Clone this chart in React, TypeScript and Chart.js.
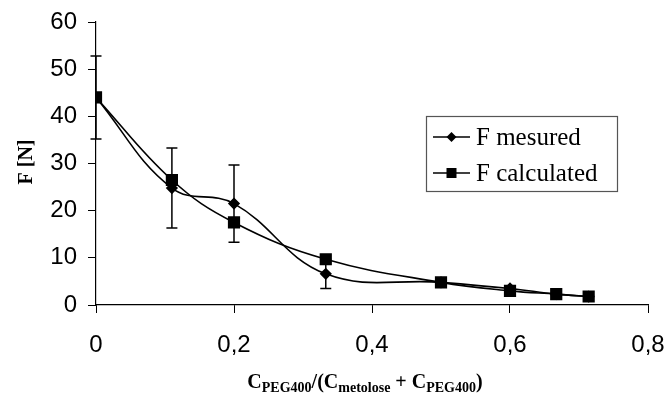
import React, { useEffect, useRef } from "react";
import { Chart, registerables } from "chart.js";

Chart.register(...registerables);

const xValues = [0, 0.11, 0.2, 0.333, 0.5, 0.6, 0.667, 0.714];
const measured = [44, 24.8, 21.5, 6.6, 4.8, 3.5, 2.3, 1.8];
const calculated = [44, 26.5, 17.5, 9.7, 4.8, 3.0, 2.3, 1.8];
const measuredError = [8.8, 8.5, 8.2, 3.1, 0.4, 0.5, 0.3, 0.2];
const seriesLabels = ["F mesured", "F calculated"];
const yTitle = "F [N]";

const SERIF = "'Liberation Serif', 'Times New Roman', serif";
const SANS = "'Liberation Sans', Arial, sans-serif";

const errorBarPlugin = {
  id: "errorBars",
  beforeDatasetsDraw(chart: any) {
    const ctx = chart.ctx;
    const xs = chart.scales.x;
    const ys = chart.scales.y;
    ctx.save();
    ctx.strokeStyle = "#000";
    ctx.lineWidth = 1.5;
    xValues.forEach((xv, i) => {
      const px = xs.getPixelForValue(xv);
      const top = ys.getPixelForValue(measured[i] + measuredError[i]);
      const bot = ys.getPixelForValue(measured[i] - measuredError[i]);
      ctx.beginPath();
      ctx.moveTo(px, top);
      ctx.lineTo(px, bot);
      ctx.moveTo(px - 5.5, top);
      ctx.lineTo(px + 5.5, top);
      ctx.moveTo(px - 5.5, bot);
      ctx.lineTo(px + 5.5, bot);
      ctx.stroke();
    });
    ctx.restore();
  },
};

const annotationPlugin = {
  id: "annotations",
  afterDraw(chart: any) {
    const ctx = chart.ctx;
    ctx.save();
    ctx.fillStyle = "#000";
    ctx.font = `bold 20px ${SERIF}`;
    ctx.textAlign = "center";
    ctx.textBaseline = "middle";
    ctx.translate(27, 162);
    ctx.rotate(-Math.PI / 2);
    ctx.fillText(yTitle, 0, 0);
    ctx.restore();

    ctx.save();
    const big = `bold 20px ${SERIF}`;
    const small = `bold 14px ${SERIF}`;
    const parts: [string, boolean][] = [
      ["C", false],
      ["PEG400", true],
      ["/(C", false],
      ["metolose", true],
      [" + C", false],
      ["PEG400", true],
      [")", false],
    ];
    let total = 0;
    parts.forEach(([t, sub]) => {
      ctx.font = sub ? small : big;
      total += ctx.measureText(t).width;
    });
    let x = 365 - total / 2;
    const baseY = 388;
    ctx.textAlign = "left";
    ctx.textBaseline = "alphabetic";
    ctx.fillStyle = "#000";
    parts.forEach(([t, sub]) => {
      ctx.font = sub ? small : big;
      ctx.fillText(t, x, sub ? baseY + 4 : baseY);
      x += ctx.measureText(t).width;
    });
    ctx.restore();

    ctx.save();
    const lx = 426, ly = 116, lw = 191, lh = 75;
    ctx.fillStyle = "#fff";
    ctx.fillRect(lx, ly, lw, lh);
    ctx.strokeStyle = "#555";
    ctx.lineWidth = 1.2;
    ctx.strokeRect(lx + 0.5, ly + 0.5, lw, lh);
    const rows = [137, 173];
    chart.data.datasets.forEach((ds: any, i: number) => {
      const y = rows[i];
      ctx.strokeStyle = "#000";
      ctx.lineWidth = 1.5;
      ctx.beginPath();
      ctx.moveTo(433, y);
      ctx.lineTo(470, y);
      ctx.stroke();
      ctx.fillStyle = "#000";
      ctx.beginPath();
      if (ds.pointStyle === "rect") {
        ctx.rect(451.5 - 5, y - 5, 10, 10);
      } else {
        ctx.moveTo(451.5 - 5, y);
        ctx.lineTo(451.5, y - 5);
        ctx.lineTo(451.5 + 5, y);
        ctx.lineTo(451.5, y + 5);
        ctx.closePath();
      }
      ctx.fill();
      ctx.font = `25px ${SERIF}`;
      ctx.textAlign = "left";
      ctx.textBaseline = "middle";
      ctx.fillText(ds.label, 476, y + 1);
    });
    ctx.restore();
  },
};

export default function App() {
  const ref = useRef<HTMLCanvasElement | null>(null);
  useEffect(() => {
    if (!ref.current) return;
    const chart = new Chart(ref.current, {
      type: "line",
      data: {
        datasets: [
          {
            label: seriesLabels[0],
            data: xValues.map((x, i) => ({ x, y: measured[i] })),
            borderColor: "#000",
            backgroundColor: "#000",
            borderWidth: 1.6,
            pointStyle: "rectRot",
            pointRadius: 5,
            tension: 0.4,
          },
          {
            label: seriesLabels[1],
            data: xValues.map((x, i) => ({ x, y: calculated[i] })),
            borderColor: "#000",
            backgroundColor: "#000",
            borderWidth: 1.6,
            pointStyle: "rect",
            pointRadius: 7.5,
            tension: 0.4,
          },
        ],
      },
      options: {
        animation: false,
        responsive: false,
        devicePixelRatio: 1,
        layout: { padding: { top: 22, right: 18, left: 0, bottom: 0 } },
        plugins: { legend: { display: false }, tooltip: { enabled: false } },
        scales: {
          x: {
            type: "linear",
            min: 0,
            max: 0.8,
            afterFit: (s: any) => {
              s.height = 95;
              s.paddingLeft = 0;
              s.paddingRight = 0;
            },
            ticks: {
              stepSize: 0.2,
              color: "#000",
              padding: 18,
              font: { family: SANS, size: 24 },
              callback: (v: any) => String(Math.round(Number(v) * 10) / 10).replace(".", ","),
            },
            grid: { drawOnChartArea: false, drawTicks: true, tickLength: 8, color: "#000" },
            border: { display: true, color: "#000", width: 1.2 },
          },
          y: {
            min: 0,
            max: 60,
            afterFit: (s: any) => {
              s.width = 96;
              s.paddingTop = 0;
              s.paddingBottom = 0;
            },
            ticks: {
              stepSize: 10,
              color: "#000",
              padding: 11,
              font: { family: SANS, size: 24 },
            },
            grid: { drawOnChartArea: false, drawTicks: true, tickLength: 8, color: "#000" },
            border: { display: true, color: "#000", width: 1.2 },
          },
        },
      },
      plugins: [errorBarPlugin, annotationPlugin],
    });
    return () => chart.destroy();
  }, []);
  return (
    <div style={{ position: "fixed", left: 0, top: 0, width: 666, height: 400, background: "#fff" }}>
      <canvas ref={ref} width={666} height={400} />
    </div>
  );
}
